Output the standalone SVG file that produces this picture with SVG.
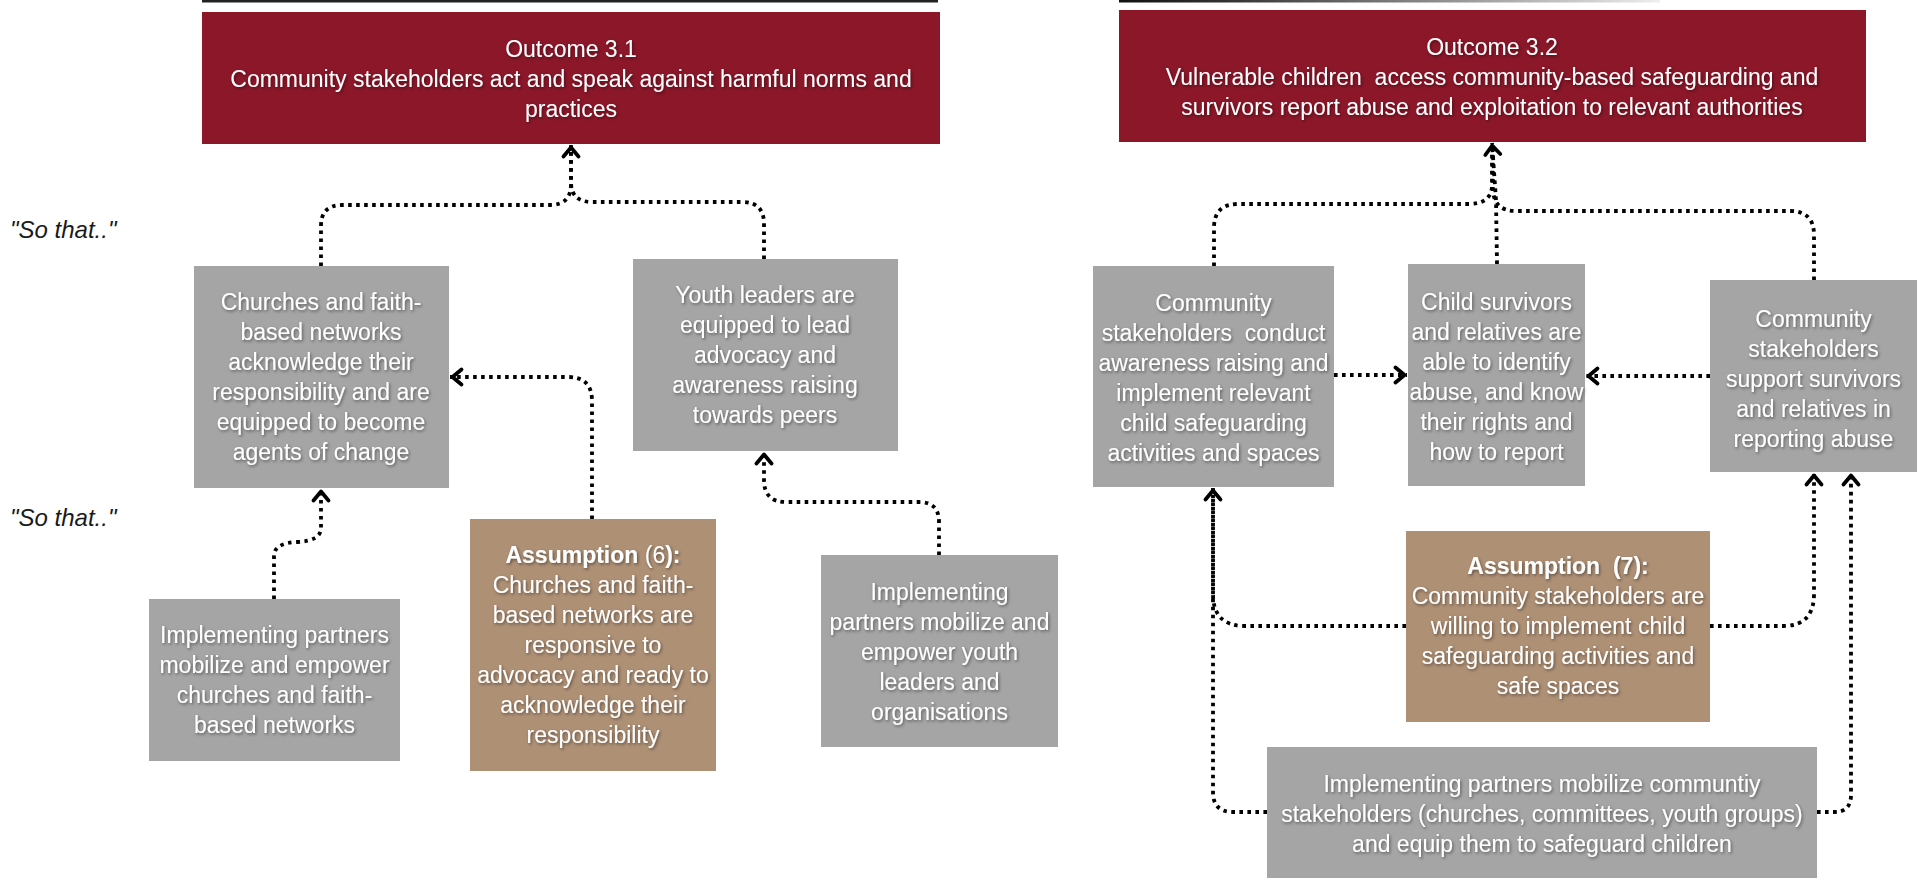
<svg xmlns="http://www.w3.org/2000/svg" width="1923" height="881" viewBox="0 0 1923 881">
<style>
.red{fill:#8B1729}
.gray{fill:#A5A5A5}
.brown{fill:#AE9075}
.t{fill:#ffffff;font-family:"Liberation Sans",Arial,sans-serif;font-size:23px;text-anchor:middle;filter:url(#shadow)}
.pre{white-space:pre}
.b{font-weight:bold}
.so{fill:#1a1a1a;font-family:"Liberation Sans",Arial,sans-serif;font-size:24px;font-style:italic}
.c{fill:none;stroke:#000;stroke-width:3.8;stroke-dasharray:3.6 4.4}
.ca{marker-end:url(#arr)}
</style>
<defs>
<filter id="shadow" x="-10%" y="-30%" width="120%" height="160%">
<feDropShadow dx="1.2" dy="1.5" stdDeviation="1.6" flood-color="#000" flood-opacity="0.45"/>
</filter>
<linearGradient id="fade" x1="0" y1="0" x2="1" y2="0">
<stop offset="0" stop-color="#111"/>
<stop offset="0.2" stop-color="#333"/>
<stop offset="1" stop-color="#eeeeee"/>
</linearGradient>
<marker id="arr" markerUnits="userSpaceOnUse" markerWidth="24" markerHeight="24" viewBox="-12 -12 24 24" refX="2.5" refY="0" orient="auto">
<path d="M-9,-7.5 L0,0 L-9,7.5" fill="none" stroke="#000" stroke-width="3.8" stroke-linejoin="round" stroke-linecap="round"/>
</marker>
</defs>

<rect x="202" y="0" width="736" height="2.5" fill="#222"/>
<rect x="1119" y="0" width="541" height="2.5" fill="url(#fade)"/>

<text class="so" x="10" y="238">"So that.."</text>
<text class="so" x="10" y="526">"So that.."</text>

<g id="connectors">
<path class="c" d="M321,266 V226 Q321,205 342,205 H550 Q571,205 571,184 V146"/>
<path class="c ca" d="M764,259 V224 Q764,202 742,202 H592 Q571,202 571,182 V145"/>
<path class="c ca" d="M274,599 V556 Q274,543 297,542 Q321,541 321,528 V489"/>
<path class="c ca" d="M592,519 V401 Q592,377 568,377 H450"/>
<path class="c ca" d="M939,555 V522 Q939,502 919,502 H786 Q764,502 764,480 V452"/>
<path class="c" d="M1214,266 V228 Q1214,204 1238,204 H1468 Q1492,204 1492,185 V146"/>
<path class="c ca" d="M1497,264 L1496,200 L1492,143"/>
<path class="c" d="M1814,280 V235 Q1814,211 1790,211 H1516 Q1494,211 1493,190 V146"/>
<path class="c ca" d="M1334,375 H1407"/>
<path class="c ca" d="M1710,376 H1586"/>
<path class="c" d="M1406,626 H1245 Q1213,626 1213,594 V495"/>
<path class="c ca" d="M1267,812 H1233 Q1213,812 1213,792 V488"/>
<path class="c ca" d="M1710,626 H1783 Q1814,626 1814,594 V473"/>
<path class="c ca" d="M1817,812 H1834 Q1851,812 1851,795 V473"/>
</g>

<g id="outcome31">
<rect class="red" x="202" y="12" width="738" height="132"/>
<text class="t" x="571" y="57">Outcome 3.1</text>
<text class="t" x="571" y="87">Community stakeholders act and speak against harmful norms and</text>
<text class="t" x="571" y="117">practices</text>
</g>

<g id="outcome32">
<rect class="red" x="1119" y="10" width="747" height="132"/>
<text class="t" x="1492" y="55">Outcome 3.2</text>
<text class="t pre" x="1492" y="85">Vulnerable children  access community-based safeguarding and</text>
<text class="t" x="1492" y="115">survivors report abuse and exploitation to relevant authorities</text>
</g>

<g id="churches">
<rect class="gray" x="194" y="266" width="255" height="222"/>
<text class="t" x="321" y="310">Churches and faith-</text>
<text class="t" x="321" y="340">based networks</text>
<text class="t" x="321" y="370">acknowledge their</text>
<text class="t" x="321" y="400">responsibility and are</text>
<text class="t" x="321" y="430">equipped to become</text>
<text class="t" x="321" y="460">agents of change</text>
</g>

<g id="youth">
<rect class="gray" x="633" y="259" width="265" height="192"/>
<text class="t" x="765" y="303">Youth leaders are</text>
<text class="t" x="765" y="333">equipped to lead</text>
<text class="t" x="765" y="363">advocacy and</text>
<text class="t" x="765" y="393">awareness raising</text>
<text class="t" x="765" y="423">towards peers</text>
</g>

<g id="assumption6">
<rect class="brown" x="470" y="519" width="246" height="252"/>
<text class="t" x="593" y="563"><tspan class="b">Assumption</tspan> (6<tspan class="b">):</tspan></text>
<text class="t" x="593" y="593">Churches and faith-</text>
<text class="t" x="593" y="623">based networks are</text>
<text class="t" x="593" y="653">responsive to</text>
<text class="t" x="593" y="683">advocacy and ready to</text>
<text class="t" x="593" y="713">acknowledge their</text>
<text class="t" x="593" y="743">responsibility</text>
</g>

<g id="impl-churches">
<rect class="gray" x="149" y="599" width="251" height="162"/>
<text class="t" x="274.5" y="643">Implementing partners</text>
<text class="t" x="274.5" y="673">mobilize and empower</text>
<text class="t" x="274.5" y="703">churches and faith-</text>
<text class="t" x="274.5" y="733">based networks</text>
</g>

<g id="impl-youth">
<rect class="gray" x="821" y="555" width="237" height="192"/>
<text class="t" x="939.5" y="600">Implementing</text>
<text class="t" x="939.5" y="630">partners mobilize and</text>
<text class="t" x="939.5" y="660">empower youth</text>
<text class="t" x="939.5" y="690">leaders and</text>
<text class="t" x="939.5" y="720">organisations</text>
</g>

<g id="cs-conduct">
<rect class="gray" x="1093" y="266" width="241" height="221"/>
<text class="t" x="1213.5" y="311">Community</text>
<text class="t pre" x="1213.5" y="341">stakeholders  conduct</text>
<text class="t" x="1213.5" y="371">awareness raising and</text>
<text class="t" x="1213.5" y="401">implement relevant</text>
<text class="t" x="1213.5" y="431">child safeguarding</text>
<text class="t" x="1213.5" y="461">activities and spaces</text>
</g>

<g id="child-survivors">
<rect class="gray" x="1408" y="264" width="177" height="222"/>
<text class="t" x="1496.5" y="310">Child survivors</text>
<text class="t" x="1496.5" y="340">and relatives are</text>
<text class="t" x="1496.5" y="370">able to identify</text>
<text class="t" x="1496.5" y="400">abuse, and know</text>
<text class="t" x="1496.5" y="430">their rights and</text>
<text class="t" x="1496.5" y="460">how to report</text>
</g>

<g id="cs-support">
<rect class="gray" x="1710" y="280" width="207" height="192"/>
<text class="t" x="1813.5" y="327">Community</text>
<text class="t" x="1813.5" y="357">stakeholders</text>
<text class="t" x="1813.5" y="387">support survivors</text>
<text class="t" x="1813.5" y="417">and relatives in</text>
<text class="t" x="1813.5" y="447">reporting abuse</text>
</g>

<g id="assumption7">
<rect class="brown" x="1406" y="531" width="304" height="191"/>
<text class="t b pre" x="1558" y="574">Assumption  (7):</text>
<text class="t" x="1558" y="604">Community stakeholders are</text>
<text class="t" x="1558" y="634">willing to implement child</text>
<text class="t" x="1558" y="664">safeguarding activities and</text>
<text class="t" x="1558" y="694">safe spaces</text>
</g>

<g id="impl-community">
<rect class="gray" x="1267" y="747" width="550" height="131"/>
<text class="t" x="1542" y="792">Implementing partners mobilize communtiy</text>
<text class="t" x="1542" y="822">stakeholders (churches, committees, youth groups)</text>
<text class="t" x="1542" y="852">and equip them to safeguard children</text>
</g>
</svg>
